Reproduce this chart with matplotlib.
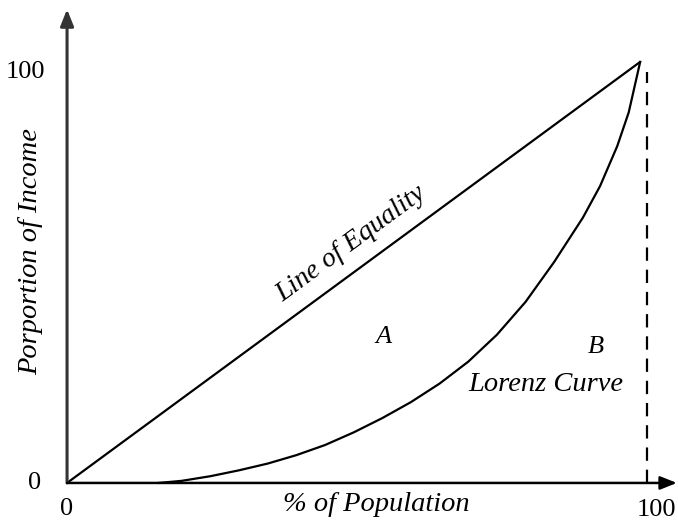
import numpy as np
import matplotlib
matplotlib.use('Agg')
import matplotlib.pyplot as plt

plt.rcParams['font.family'] = ['Liberation Serif', 'DejaVu Serif']

# lorenz curve (% population, % income)
pop = [16, 20, 25, 30, 35, 40, 45, 50, 55, 60, 65, 70, 75, 80, 85, 90, 93, 96, 98, 100]
income = [0, 0.5, 1.6, 3.0, 4.6, 6.6, 9.0, 12.0, 15.4, 19.2, 23.6, 28.8, 35.2,
          43.0, 52.5, 63.0, 70.5, 80.0, 88.0, 100]
equality = [0, 100]
tick_vals = [0, 100]
tick_labels = ['0', '100']

fig = plt.figure(figsize=(6.78, 5.2), dpi=100)
ax = fig.add_axes([0, 0, 1, 1])
ax.set_xlim(-11.7, 106.6)
ax.set_ylim(-8.8, 114.7)
ax.axis('off')

# axes with arrow heads
ax.annotate('', xy=(0, 112.5), xytext=(0, 0),
            arrowprops=dict(arrowstyle='-|>,head_length=1.0,head_width=0.4',
                            lw=2.2, color='#333333', shrinkA=0, shrinkB=0))
ax.annotate('', xy=(106.4, 0), xytext=(0, 0),
            arrowprops=dict(arrowstyle='-|>,head_length=1.0,head_width=0.4',
                            lw=1.8, color='black', shrinkA=0, shrinkB=0))

ax.plot(equality, equality, color='black', lw=1.6, solid_capstyle='round')
ax.plot(pop, income, color='black', lw=1.6, solid_joinstyle='round')
ax.plot([101.2, 101.2], [0, 97.6], color='black', lw=1.6, linestyle=(0, (6, 4)))

# tick labels
ax.text(tick_vals[0], -3.5, tick_labels[0], ha='center', va='top', fontsize=19)
ax.text(102.8, -3.8, tick_labels[1], ha='center', va='top', fontsize=19)
ax.text(-4.5, tick_vals[0], tick_labels[0], ha='right', va='center', fontsize=19)
ax.text(-3.8, tick_vals[1] - 2.5, tick_labels[1], ha='right', va='center', fontsize=19)

ax.text(-6.4, 55, 'Porportion of Income', rotation=90, ha='center', va='center',
        fontsize=20.5, style='italic')
ax.text(53.9, -5.2, '% of Population', ha='center', va='center', fontsize=20.5,
        style='italic')
ax.text(49.5, 56.8, 'Line of Equality', rotation=36.3, ha='center', va='center',
        fontsize=20, style='italic', rotation_mode='anchor')
ax.text(55.2, 34.7, 'A', ha='center', va='center', fontsize=19, style='italic')
ax.text(92.3, 32.3, 'B', ha='center', va='center', fontsize=19, style='italic')
ax.text(83.6, 23.3, 'Lorenz Curve', ha='center', va='center', fontsize=20.5,
        style='italic')

fig.savefig('out.png', dpi=100)
